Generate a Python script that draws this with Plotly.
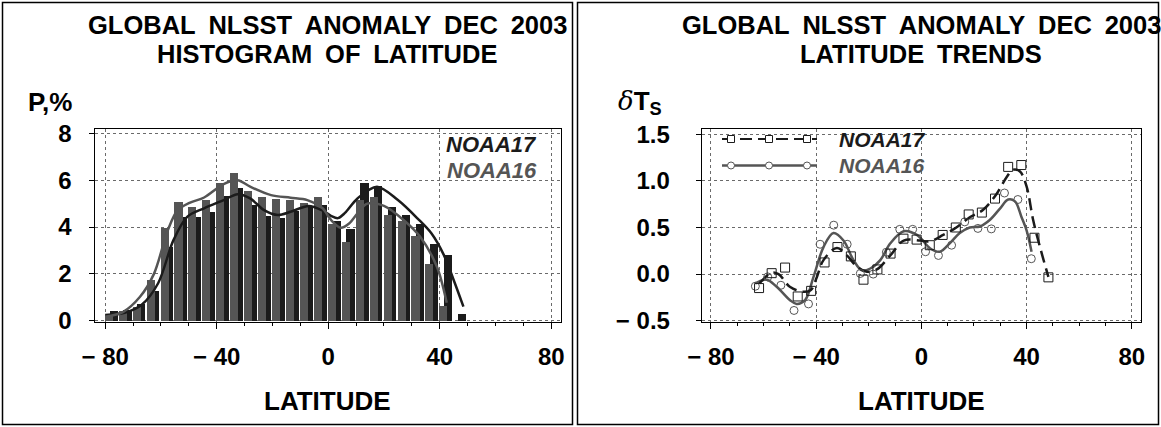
import plotly.graph_objects as go

# ---------------- data ----------------
# Histogram of latitude, 5-degree bins (bin start latitude), percent of pixels
bin_start = [-80, -75, -70, -65, -60, -55, -50, -45, -40, -35, -30, -25, -20,
             -15, -10, -5, 0, 5, 10, 15, 20, 25, 30, 35, 40, 45]
hist_noaa17 = [0.43, 0.50, 0.75, 1.30, 3.18, 4.45, 4.46, 4.65, 5.35, 5.70, 4.95, 4.50, 4.42,
               4.70, 4.92, 4.98, 4.29, 3.94, 5.90, 5.78, 4.88, 4.54, 4.14, 3.29, 2.83, 0.32]
hist_noaa16 = [0.27, 0.45, 0.60, 1.75, 3.97, 5.10, 4.88, 5.19, 5.90, 6.34, 5.57, 5.31, 5.20,
               5.16, 5.05, 5.31, 4.17, 3.39, 5.18, 5.30, 4.54, 4.28, 3.64, 2.46, 0.63, 0.00]

# Smoothed histogram envelopes
env17_lat = [-80, -73, -67, -61, -55.5, -50.5, -44.5, -37.5, -32.5, -28, -23, -18, -13.5,
             -7, -2, 1, 3.5, 6, 10.5, 17.5, 25, 32, 37, 41.5, 45, 48.5]
env17_val = [0.24, 0.34, 0.67, 1.60, 3.44, 4.44, 4.80, 5.15, 5.40, 5.22, 4.72, 4.51, 4.65,
             4.90, 4.70, 4.48, 4.38, 4.60, 5.22, 5.72, 5.15, 4.37, 3.73, 2.80, 1.74, 0.60]
env16_lat = [-80, -73.5, -67.5, -62.5, -57.5, -54, -49.5, -44.5, -37.5, -32.5, -28, -20.5,
             -13.5, -7.5, -2, 1, 4.5, 7.5, 10.5, 14, 20, 27, 33, 39, 42.5]
env16_val = [0.17, 0.38, 1.02, 2.00, 3.87, 4.72, 5.04, 5.26, 5.83, 6.00, 5.72, 5.36,
             5.25, 5.15, 4.80, 4.30, 3.97, 4.15, 4.58, 5.00, 4.90, 4.30, 3.58, 2.30, 0.77]

# Latitude trends of the SST anomaly
trend17_lat = [-61.7, -56.9, -51.8, -47.0, -41.9, -36.8, -31.9, -26.8, -22.0, -16.7, -11.7, -6.8,
               -1.8, 3.2, 8.1, 13.1, 18.0, 23.0, 28.0, 33.0, 38.0, 43.0, 48.3]
trend17_val = [-0.15, 0.01, 0.07, -0.24, -0.18, 0.125, 0.29, 0.19, -0.06, 0.05, 0.22, 0.38,
               0.37, 0.31, 0.42, 0.50, 0.64, 0.66, 0.81, 1.15, 1.17, 0.39, -0.035]
trend16_lat = [-63.1, -58.4, -53.4, -48.4, -42.9, -38.5, -33.3, -28.2, -23.2, -18.3, -13.3,
               -8.2, -3.3, 1.6, 6.5, 11.5, 16.5, 21.5, 26.6, 31.6, 36.7, 41.8]
trend16_val = [-0.13, -0.03, -0.12, -0.39, -0.32, 0.32, 0.525, 0.32, 0.007, 0.0, 0.235,
               0.48, 0.48, 0.24, 0.20, 0.31, 0.56, 0.49, 0.485, 0.87, 0.80, 0.165]

fit17_lat = [-61.5, -57, -54.3, -50, -45, -42, -39.7, -37.2, -32.1, -28.3, -24.5, -20.7, -16.9,
             -11.8, -6.7, -0.4, 3.2, 8.3, 13.3, 18.4, 23.5, 28.6, 32.4, 34.9, 37.5, 40, 42.5,
             45.1, 48.3]
fit17_val = [-0.10, 0.014, 0.0, -0.136, -0.19, -0.17, -0.03, 0.15, 0.28, 0.20, 0.08, 0.025, 0.05,
             0.20, 0.36, 0.36, 0.35, 0.42, 0.50, 0.61, 0.69, 0.86, 1.04, 1.12, 1.10, 0.94, 0.58,
             0.29, -0.03]
fit16_lat = [-63.1, -58.8, -55, -49.9, -47.4, -44.2, -41, -37.2, -33.4, -29.6, -25.8, -22.6,
             -19.4, -15.6, -11.8, -6.7, -1.7, 3.4, 7, 10.8, 14.6, 18.4, 22.2, 26, 29.8, 33,
             35.6, 38.1, 40, 41.9]
fit16_val = [-0.10, -0.06, -0.136, -0.28, -0.32, -0.28, -0.03, 0.29, 0.44, 0.36, 0.15, 0.04,
             0.06, 0.15, 0.33, 0.46, 0.42, 0.275, 0.24, 0.33, 0.44, 0.50, 0.51, 0.58, 0.70, 0.80,
             0.78, 0.61, 0.47, 0.24]

lat_ticks = [-80, -40, 0, 40, 80]
lat_labels = ["\u2212 80", "\u2212 40", "0", "40", "80"]
pct_ticks = [0, 2, 4, 6, 8]
pct_labels = ["0", "2", "4", "6", "8"]
dts_ticks = [-0.5, 0.0, 0.5, 1.0, 1.5]
dts_labels = ["\u2212 0.5", "0.0", "0.5", "1.0", "1.5"]

# ---------------- styling ----------------
W, H = 1161, 427
DARK = "#1b1b1b"
GREY = "#555555"
FONT = "Liberation Sans"
SP = "\u2002"  # wide word gap used in the panel titles


def fx(p):
    return p / W


def fy(p):
    return 1 - p / H


fig = go.Figure()

# histogram bars (grey drawn on top of the dark ones)
fig.add_trace(go.Bar(x=bin_start, y=hist_noaa17, offset=1.7, width=2.9,
                     marker=dict(color=DARK, line=dict(width=0)),
                     xaxis="x", yaxis="y", showlegend=False))
fig.add_trace(go.Bar(x=bin_start, y=hist_noaa16, offset=0.0, width=2.9,
                     marker=dict(color=GREY, line=dict(width=0)),
                     xaxis="x", yaxis="y", showlegend=False))
fig.add_trace(go.Scatter(x=env17_lat, y=env17_val, mode="lines",
                         line=dict(color=DARK, width=2.5, shape="spline", smoothing=0.9),
                         xaxis="x", yaxis="y", showlegend=False))
fig.add_trace(go.Scatter(x=env16_lat, y=env16_val, mode="lines",
                         line=dict(color=GREY, width=2.5, shape="spline", smoothing=0.9),
                         xaxis="x", yaxis="y", showlegend=False))

# trend curves and markers
fig.add_trace(go.Scatter(x=fit16_lat, y=fit16_val, mode="lines",
                         line=dict(color=GREY, width=2.5, shape="spline", smoothing=1.0),
                         xaxis="x2", yaxis="y2", showlegend=False))
fig.add_trace(go.Scatter(x=fit17_lat, y=fit17_val, mode="lines",
                         line=dict(color=DARK, width=2.5, shape="spline", smoothing=1.0,
                                   dash="12px,6px"),
                         xaxis="x2", yaxis="y2", showlegend=False))
fig.add_trace(go.Scatter(x=trend16_lat, y=trend16_val, mode="markers",
                         marker=dict(symbol="circle-open", size=8, color=GREY,
                                     line=dict(width=1, color=GREY)),
                         xaxis="x2", yaxis="y2", showlegend=False))
fig.add_trace(go.Scatter(x=trend17_lat, y=trend17_val, mode="markers",
                         marker=dict(symbol="square-open", size=9, color=DARK,
                                     line=dict(width=1, color=DARK)),
                         xaxis="x2", yaxis="y2", showlegend=False))

tickfont = dict(family=FONT, size=24, color="black", weight="bold")
common_x = dict(range=[-83.5, 83.5], tickvals=lat_ticks, ticktext=lat_labels,
                ticks="outside", ticklen=6, tickwidth=1, tickcolor="black",
                showline=True, mirror=True, linecolor="black", linewidth=1,
                showgrid=True, gridcolor="#6a6a6a", gridwidth=1, griddash="dot",
                zeroline=False, tickfont=tickfont, ticklabelstandoff=7,
                minor=dict(tick0=0, dtick=10, ticks="outside", ticklen=3,
                           tickwidth=1, tickcolor="black", showgrid=False))
common_y = dict(ticks="outside", ticklen=5, tickwidth=1, tickcolor="black",
                showline=True, mirror=True, linecolor="black", linewidth=1,
                showgrid=True, gridcolor="#6a6a6a", gridwidth=1, griddash="dot",
                zeroline=False, tickfont=tickfont)

# figure size comes from the page div (set at export), so no width/height here
fig.update_layout(
    autosize=True,
    margin=dict(l=0, r=0, t=0, b=0, autoexpand=False),
    paper_bgcolor="white", plot_bgcolor="white",
    barmode="overlay", bargap=0,
    xaxis=dict(domain=[fx(95.4), fx(561)], anchor="y", **common_x),
    yaxis=dict(domain=[fy(322), fy(128.5)], anchor="x", range=[-0.055, 8.205],
               tickvals=pct_ticks, ticktext=pct_labels, ticklabelstandoff=13, **common_y),
    xaxis2=dict(domain=[fx(701.7), fx(1141)], anchor="y2", **common_x),
    yaxis2=dict(domain=[fy(322), fy(128.5)], anchor="x2", range=[-0.514, 1.562],
                tickvals=dts_ticks, ticktext=dts_labels, ticklabelstandoff=21, **common_y),
)

# panel frames
for x0, x1 in [(2.5, 572.5), (577.5, 1158.5)]:
    fig.add_shape(type="rect", xref="paper", yref="paper",
                  x0=fx(x0), x1=fx(x1), y0=fy(424.5), y1=fy(2.5),
                  line=dict(color="black", width=1.5), layer="below")

title_font = dict(family=FONT, size=25.5, color="black")
label_font = dict(family=FONT, size=26, color="black")


def text(x, y, s, font, xanchor="center"):
    fig.add_annotation(x=fx(x), y=fy(y), xref="paper", yref="paper", text=s,
                       showarrow=False, font=font, xanchor=xanchor, yanchor="middle")


# titles
line1 = SP.join(["GLOBAL", "NLSST", "ANOMALY", "DEC", "2003"])
text(327, 25, "<b>" + line1 + "</b>", title_font)
text(327, 54, "<b>" + SP.join(["HISTOGRAM", "OF", "LATITUDE"]) + "</b>", title_font)
text(921, 25, "<b>" + line1 + "</b>", title_font)
text(921, 54, "<b>" + SP.join(["LATITUDE", "TRENDS"]) + "</b>", title_font)

# axis titles
text(50, 102, "<b>P,%</b>", dict(family=FONT, size=26, color="black"))
text(327, 401, "<b>LATITUDE</b>", label_font)
text(921, 401, "<b>LATITUDE</b>", label_font)
fig.add_annotation(x=fx(640), y=fy(102), xref="paper", yref="paper", showarrow=False,
                   xanchor="center", yanchor="middle",
                   text="<span style='font-family:DejaVu Serif;font-style:italic;font-weight:normal'>\u03b4</span>"
                        "<b>T<sub>S</sub></b>",
                   font=dict(family=FONT, size=26, color="black"))

# histogram legend
leg_font17 = dict(family=FONT, size=22, color=DARK)
leg_font16 = dict(family=FONT, size=22, color=GREY)
text(539, 145, "<b><i>NOAA17</i></b>", leg_font17, xanchor="right")
text(539, 170, "<b><i>NOAA16</i></b>", leg_font16, xanchor="right")

# trend legend
fig.add_shape(type="line", xref="paper", yref="paper", x0=fx(722), x1=fx(817),
              y0=fy(139), y1=fy(139), line=dict(color=DARK, width=2, dash="12px,6px"))
fig.add_shape(type="line", xref="paper", yref="paper", x0=fx(722), x1=fx(817),
              y0=fy(165.5), y1=fy(165.5), line=dict(color=GREY, width=2.5))
for cx in (731, 769, 807):
    fig.add_shape(type="rect", xref="paper", yref="paper",
                  x0=fx(cx - 3.5), x1=fx(cx + 3.5), y0=fy(139 + 3.5), y1=fy(139 - 3.5),
                  line=dict(color=DARK, width=1), fillcolor="white")
    fig.add_shape(type="circle", xref="paper", yref="paper",
                  x0=fx(cx - 3.5), x1=fx(cx + 3.5), y0=fy(165.5 + 3.5), y1=fy(165.5 - 3.5),
                  line=dict(color=GREY, width=1), fillcolor="white")
text(837, 140, "<b><i>NOAA17</i></b>", dict(family=FONT, size=21, color=DARK), xanchor="left")
text(837, 165, "<b><i>NOAA16</i></b>", dict(family=FONT, size=21, color=GREY), xanchor="left")

# pin the plot div to the window's top-left corner at the exact page size
fig.write_html(
    "out.html",
    default_width="%dpx; position:absolute; left:0; top:0" % W,
    default_height="%dpx" % H,
    post_script="document.body.style.margin='0';",
)
